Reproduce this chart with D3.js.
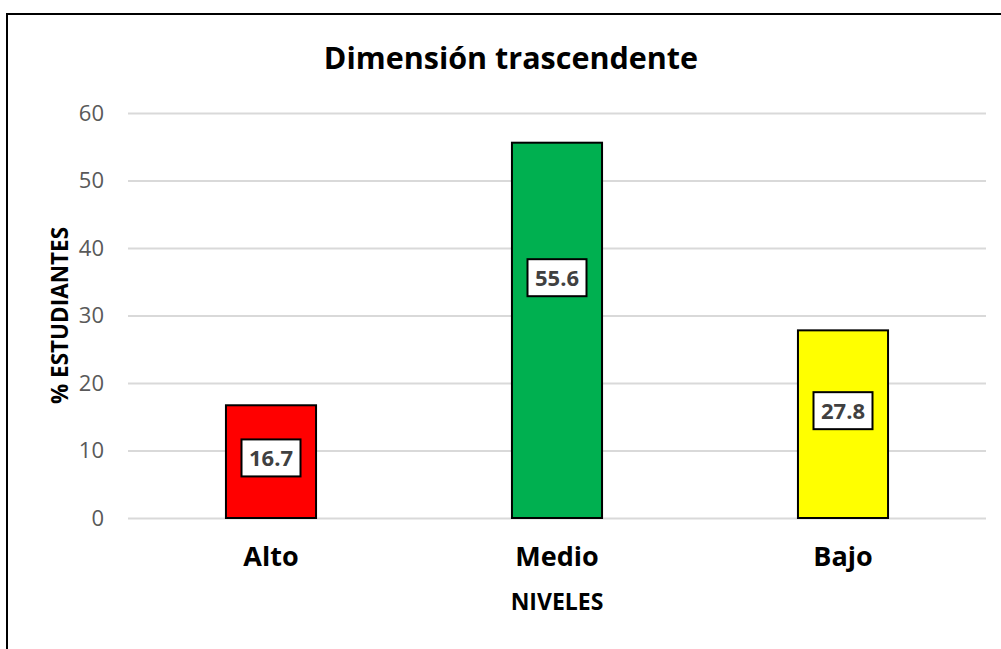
<!DOCTYPE html>
<html lang="es">
<head>
  <meta charset="UTF-8">
  <title>Dimensión trascendente</title>
  <script src="https://cdn.jsdelivr.net/npm/d3@7"></script>
  <style>
    html, body { margin: 0; padding: 0; background: #fff; }
    svg { display: block; font-family: 'Open Sans', 'Noto Sans', sans-serif; }
  </style>
</head>
<body>
<script>
  // datos
  const niveles = ['Alto', 'Medio', 'Bajo'];
  const porcentajes = [16.7, 55.6, 27.8];
  const colores = ['#ff0000', '#00b050', '#ffff00'];
  // altura (en % del eje) donde se ve cada etiqueta
  const etiquetaEn = [8.9, 35.6, 15.9];
  const yTicks = [0, 10, 20, 30, 40, 50, 60];

  const width = 1001;
  const height = 649;
  const margin = {top: 113, right: 15, bottom: 131, left: 128};

  const svg = d3.select('body').append('svg')
    .attr('width', width).attr('height', height);

  svg.append('rect')
    .attr('x', 7).attr('y', 14)
    .attr('width', 1010).attr('height', 660)
    .attr('fill', '#fff')
    .attr('stroke', '#000').attr('stroke-width', 2);

  const x = d3.scaleBand()
    .domain(niveles)
    .range([margin.left, width - margin.right])
    .paddingInner(0.685).paddingOuter(0.3425);

  const y = d3.scaleLinear()
    .domain([0, 60])
    .range([height - margin.bottom, margin.top]);

  // eje y + rejilla
  svg.append('g')
    .attr('transform', `translate(${margin.left},0)`)
    .call(d3.axisLeft(y).tickValues(yTicks).tickSize(0).tickPadding(24))
    .call(g => g.select('.domain').remove())
    .call(g => g.selectAll('text')
      .style('font-size', '22px').attr('fill', '#595959')
      .style('font-family', "'Open Sans', sans-serif"))
    .call(g => g.selectAll('.tick').append('line')
      .attr('x1', 0).attr('x2', width - margin.right - margin.left)
      .attr('stroke', '#d9d9d9').attr('stroke-width', 2));

  // barras
  svg.append('g').selectAll('rect')
    .data(niveles)
    .join('rect')
    .attr('x', d => x(d))
    .attr('y', (d, i) => y(porcentajes[i]))
    .attr('width', x.bandwidth())
    .attr('height', (d, i) => y(0) - y(porcentajes[i]))
    .attr('fill', (d, i) => colores[i])
    .attr('stroke', '#000').attr('stroke-width', 2);

  // etiquetas de datos
  const lab = svg.append('g').selectAll('g')
    .data(niveles)
    .join('g')
    .attr('transform', (d, i) => `translate(${x(d) + x.bandwidth() / 2},${y(etiquetaEn[i])})`);
  lab.append('rect')
    .attr('x', -29.5).attr('y', -18.5)
    .attr('width', 59).attr('height', 37)
    .attr('fill', '#fff').attr('stroke', '#000').attr('stroke-width', 2);
  lab.append('text')
    .attr('text-anchor', 'middle').attr('dy', '0.36em')
    .attr('font-weight', 700).style('font-size', '22px')
    .attr('fill', '#404040')
    .text((d, i) => porcentajes[i].toFixed(1));

  // eje x
  svg.append('g')
    .attr('transform', `translate(0,${y(0)})`)
    .call(d3.axisBottom(x).tickSize(0).tickPadding(29))
    .call(g => g.select('.domain').remove())
    .call(g => g.selectAll('text')
      .style('font-size', '27px').attr('font-weight', 700).attr('fill', '#000')
      .style('font-family', "'Open Sans', sans-serif"));

  // titulos
  svg.append('text')
    .attr('x', 511).attr('y', 69)
    .attr('text-anchor', 'middle')
    .attr('font-weight', 700).style('font-size', '30.5px')
    .text('Dimensión trascendente');

  svg.append('text')
    .attr('x', (margin.left + width - margin.right) / 2).attr('y', 610)
    .attr('text-anchor', 'middle')
    .attr('font-weight', 700).style('font-size', '23px')
    .text('NIVELES');

  svg.append('text')
    .attr('transform', `translate(68,${(y(0) + y(60)) / 2}) rotate(-90)`)
    .attr('text-anchor', 'middle')
    .attr('font-weight', 700).style('font-size', '22.5px')
    .text('% ESTUDIANTES');
</script>
</body>
</html>
